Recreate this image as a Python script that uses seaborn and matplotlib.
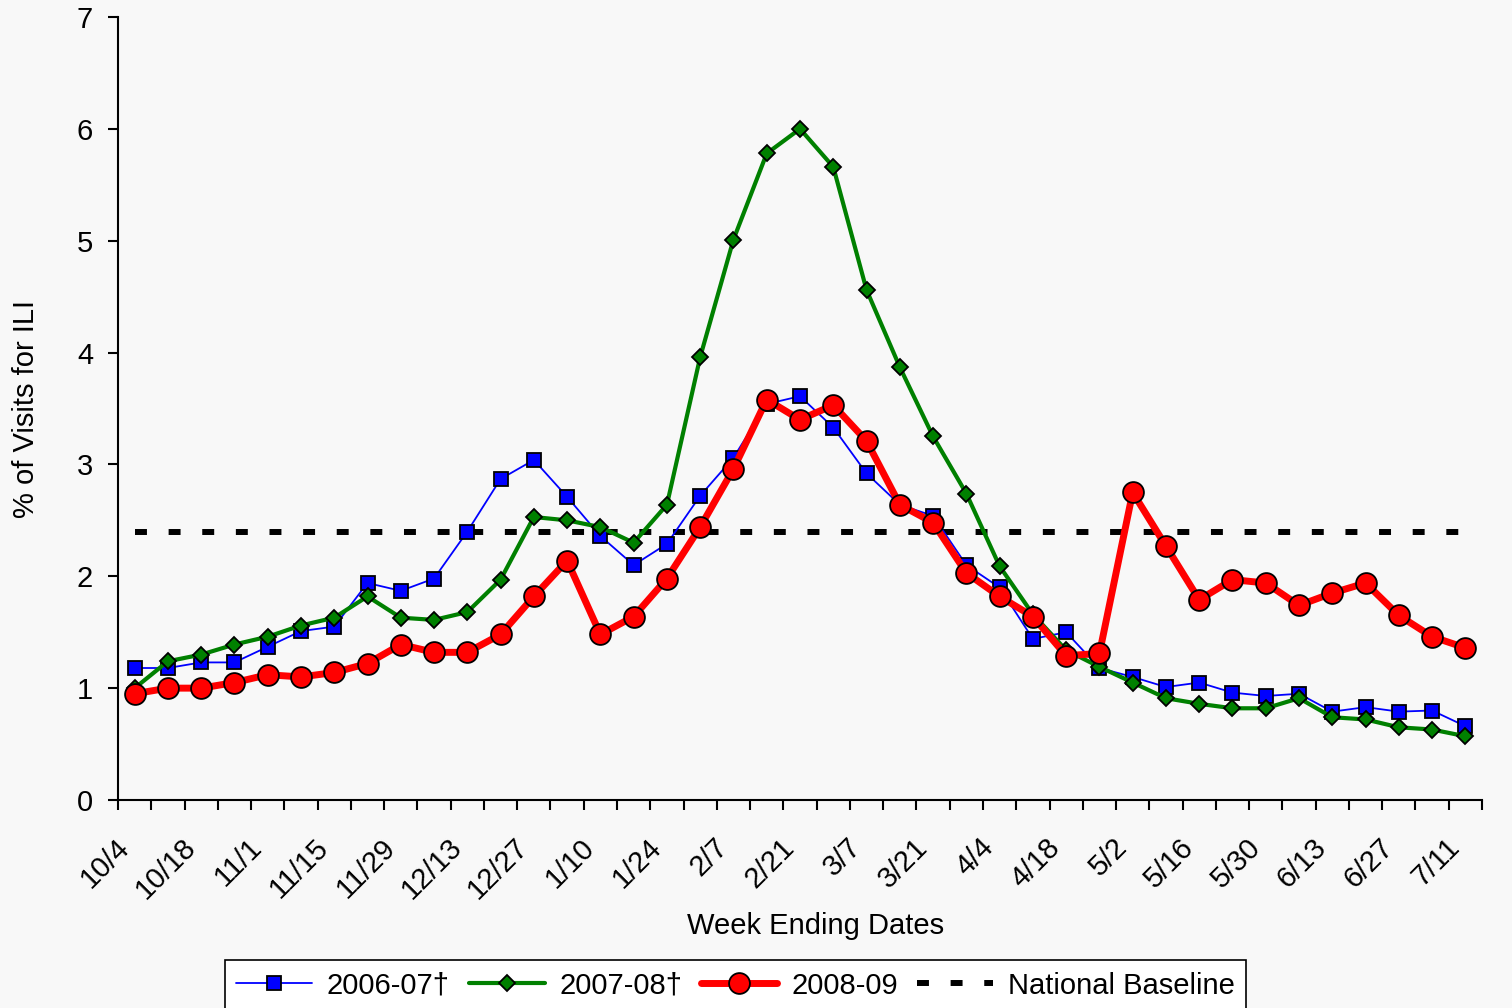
import matplotlib.pyplot as plt
import seaborn as sns
import pandas as pd
from matplotlib.transforms import ScaledTranslation

# Semanas (fecha de fin de semana)
weeks = ['10/4', '10/11', '10/18', '10/25', '11/1', '11/8', '11/15', '11/22', '11/29',
         '12/6', '12/13', '12/20', '12/27', '1/3', '1/10', '1/17', '1/24', '1/31',
         '2/7', '2/14', '2/21', '2/28', '3/7', '3/14', '3/21', '3/28', '4/4', '4/11',
         '4/18', '4/25', '5/2', '5/9', '5/16', '5/23', '5/30', '6/6', '6/13', '6/20',
         '6/27', '7/4', '7/11']

s2006 = [1.18, 1.18, 1.23, 1.23, 1.37, 1.51, 1.55, 1.94, 1.87, 1.98, 2.40, 2.87, 3.04,
         2.71, 2.36, 2.10, 2.29, 2.72, 3.06, 3.54, 3.61, 3.33, 2.92, 2.64, 2.54, 2.10,
         1.90, 1.44, 1.50, 1.18, 1.10, 1.01, 1.05, 0.96, 0.93, 0.95, 0.79, 0.83, 0.79,
         0.80, 0.66]
s2007 = [1.00, 1.24, 1.30, 1.39, 1.46, 1.56, 1.63, 1.82, 1.63, 1.61, 1.68, 1.97, 2.53,
         2.50, 2.44, 2.30, 2.64, 3.96, 5.01, 5.78, 6.00, 5.66, 4.56, 3.87, 3.25, 2.74,
         2.09, 1.66, 1.34, 1.19, 1.05, 0.91, 0.86, 0.82, 0.82, 0.91, 0.74, 0.72, 0.65,
         0.63, 0.57]
s2008 = [0.95, 1.00, 1.00, 1.05, 1.12, 1.10, 1.14, 1.22, 1.39, 1.32, 1.32, 1.48, 1.82,
         2.14, 1.48, 1.64, 1.98, 2.44, 2.96, 3.58, 3.40, 3.53, 3.21, 2.64, 2.48, 2.03,
         1.82, 1.64, 1.29, 1.31, 2.75, 2.27, 1.79, 1.97, 1.94, 1.74, 1.85, 1.94, 1.65,
         1.46, 1.36]
baseline = 2.4

series_labels = ['2006-07\u2020', '2007-08\u2020', '2008-09']

df = pd.DataFrame({
    'pos': list(range(len(weeks))) * 3,
    'week': weeks * 3,
    'pct': s2006 + s2007 + s2008,
    'season': [series_labels[0]] * len(weeks) + [series_labels[1]] * len(weeks)
              + [series_labels[2]] * len(weeks),
})
base_df = pd.DataFrame({'pos': list(range(len(weeks))), 'pct': [baseline] * len(weeks)})

sns.set_style('ticks')
plt.rcParams['font.family'] = ['Liberation Sans', 'DejaVu Sans']
plt.rcParams['text.color'] = 'black'
plt.rcParams['axes.labelcolor'] = 'black'
plt.rcParams['xtick.color'] = 'black'
plt.rcParams['ytick.color'] = 'black'
bg = '#f8f8f8'

fig = plt.figure(figsize=(15.12, 10.08), dpi=100, facecolor=bg)
ax = fig.add_axes([118 / 1512, 1 - 800 / 1008, 1364 / 1512, 783 / 1008])
ax.set_facecolor(bg)

styles = {
    series_labels[0]: dict(color='#0000ff', marker='s', markersize=9.6, linewidth=1.3, zorder=3),
    series_labels[1]: dict(color='#008000', marker='D', markersize=7.8, linewidth=3.0, zorder=4),
    series_labels[2]: dict(color='#ff0000', marker='o', markersize=15, linewidth=5.0, zorder=5),
}
for name in series_labels:
    sub = df[df['season'] == name]
    sns.lineplot(data=sub, x='pos', y='pct', ax=ax, label=name, errorbar=None, sort=False,
                 markeredgecolor='black', markeredgewidth=1.3, **styles[name])

sns.lineplot(data=base_df, x='pos', y='pct', ax=ax, label='National Baseline', color='black',
             linewidth=4.3, linestyle=(0, (2.0, 3.63)), dash_capstyle='butt',
             errorbar=None, zorder=2)

ax.set_ylim(0, 7)
ax.set_yticks(range(0, 8))
ax.set_xlim(-0.5, len(weeks) - 0.5)
ax.set_xticks(range(0, len(weeks), 2))
ax.set_xticklabels(weeks[::2], rotation=45, ha='right', va='center', rotation_mode='anchor')
ax.set_xticks([i - 0.5 for i in range(len(weeks) + 1)], minor=True)
ax.tick_params(axis='x', which='major', length=0, pad=31, labelsize=21, labelcolor='black')
ax.tick_params(axis='x', which='minor', length=7, width=1.5, color='black', direction='out')
ax.tick_params(axis='y', length=7, width=1.5, color='black', direction='out', pad=11,
               labelsize=21, labelcolor='black')
offset = ScaledTranslation(-10 / 100, 0, fig.dpi_scale_trans)
for lab in ax.get_xticklabels():
    lab.set_transform(lab.get_transform() + offset)

for side in ['top', 'right']:
    ax.spines[side].set_visible(False)
for side in ['left', 'bottom']:
    ax.spines[side].set_linewidth(1.5)
    ax.spines[side].set_color('black')

ax.set_xlabel('Week Ending Dates', fontsize=21, color='black')
ax.set_ylabel('% of Visits for ILI', fontsize=21, color='black')
ax.xaxis.set_label_coords((816 - 118) / 1364, (800 - 912) / 783)
ax.yaxis.set_label_coords((40 - 118) / 1364, 0.5)

leg = ax.legend(loc='upper center', bbox_to_anchor=(735.5 / 1512, 1 - 960 / 1008),
                bbox_transform=fig.transFigure, ncol=4, fontsize=21, frameon=True,
                fancybox=False, framealpha=1, facecolor='white', edgecolor='black',
                handlelength=2.6, handletextpad=0.5, columnspacing=0.65, borderpad=0.4,
                borderaxespad=0)
leg.get_frame().set_linewidth(1.2)
for t in leg.get_texts():
    t.set_color('black')

fig.savefig('out.png', dpi=100, facecolor=bg)
